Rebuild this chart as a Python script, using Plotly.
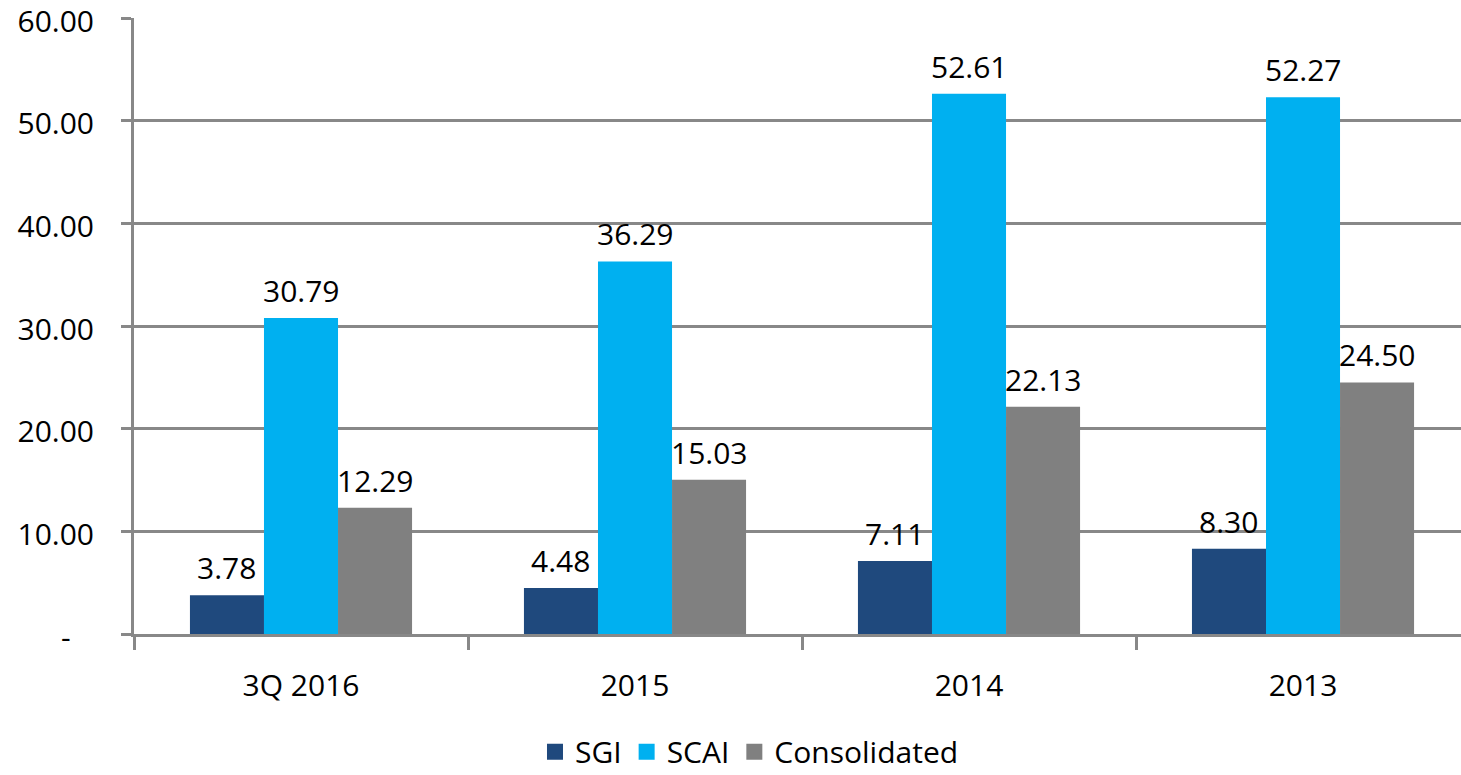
import plotly.graph_objects as go

categories = ["3Q 2016", "2015", "2014", "2013"]
sgi = [3.78, 4.48, 7.11, 8.30]
scai = [30.79, 36.29, 52.61, 52.27]
consolidated = [12.29, 15.03, 22.13, 24.50]
y_ticks = [0, 10, 20, 30, 40, 50, 60]
y_tick_labels = ["-\u00a0\u00a0\u00a0", "10.00", "20.00", "30.00", "40.00", "50.00", "60.00"]

FONT = "Open Sans, Carlito, Calibri, sans-serif"
series = [("SGI", sgi, "#1F497D"), ("SCAI", scai, "#00B0F0"), ("Consolidated", consolidated, "#808080")]
BARGAP = 0.335
n = len(series)
bar_w = (1 - BARGAP) / n

fig = go.Figure()
annotations = []
for i, (name, vals, color) in enumerate(series):
    fig.add_trace(go.Bar(
        name=name, x=categories, y=vals, legendgroup=name, showlegend=False,
        marker=dict(color=color, line=dict(width=0)),
    ))
    off = (i - (n - 1) / 2) * bar_w
    for j, v in enumerate(vals):
        annotations.append(dict(
            x=j + off, y=v, xref="x", yref="y", text=f"{v:.2f}", showarrow=False,
            yanchor="bottom", yshift=5, font=dict(family=FONT, size=30, color="black"),
        ))
# legend entries with larger square swatches
for name, vals, color in series:
    fig.add_trace(go.Scatter(
        name=name, x=[None], y=[None], mode="markers", legendgroup=name,
        marker=dict(symbol="square", size=20, color=color, line=dict(width=0)),
    ))

fig.update_layout(
    width=1461, height=775,
    margin=dict(l=134, r=0, t=18, b=141),
    paper_bgcolor="white", plot_bgcolor="white",
    barmode="group", bargap=BARGAP, bargroupgap=0,
    font=dict(family=FONT, size=30, color="black"),
    showlegend=True,
    legend=dict(orientation="h", xref="container", yref="container",
                x=0.513, xanchor="center", y=0.03, yanchor="middle",
                font=dict(family=FONT, size=30, color="black"),
                traceorder="normal", itemclick=False),
    annotations=annotations,
)
fig.update_xaxes(
    type="category", range=[-0.5, 3.473],
    showgrid=False, showline=True, linecolor="#888888", linewidth=3,
    ticks="outside", tickson="boundaries", ticklen=13, tickcolor="#888888", tickwidth=3,
    tickfont=dict(family=FONT, size=30, color="black"), ticklabelstandoff=23,
    automargin=False,
)
fig.update_yaxes(
    range=[0, 60], tickvals=y_ticks, ticktext=y_tick_labels,
    showgrid=True, gridcolor="#888888", gridwidth=2.5,
    showline=True, linecolor="#888888", linewidth=3,
    ticks="outside", ticklen=10, tickcolor="#888888", tickwidth=2.5,
    tickfont=dict(family=FONT, size=30, color="black"), ticklabelstandoff=21,
    ticklabelshift=3, ticklabeloverflow="allow", zeroline=False, automargin=False,
)
fig.write_html("out.html", config={"displayModeBar": False},
               post_script="document.body.style.margin='0';document.body.style.overflow='hidden';")
